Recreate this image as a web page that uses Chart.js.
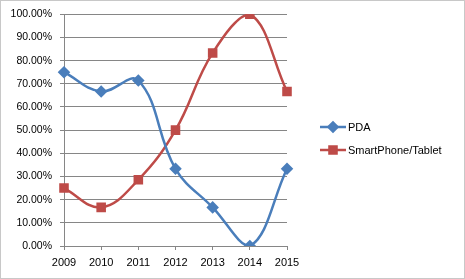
<!DOCTYPE html>
<html>
<head>
<meta charset="utf-8">
<script src="https://cdn.jsdelivr.net/npm/chart.js@4"></script>
<style>
  html, body { margin: 0; padding: 0; background: #fff; }
  #wrap { width: 465px; height: 279px; }
</style>
</head>
<body>
<div id="wrap"><canvas id="chart" width="465" height="279"></canvas></div>
<script>
// values
const years = ['2009', '2010', '2011', '2012', '2013', '2014', '2015'];
const pda = [75, 66.67, 71.43, 33.33, 16.67, 0, 33.33];
const smartphone = [25, 16.67, 28.57, 50, 83.33, 100, 66.67];
const seriesNames = ['PDA', 'SmartPhone/Tablet'];

const FONT = 'Liberation Sans';

// excel style legend: line with marker in the middle
const sideLegend = {
  id: 'sideLegend',
  afterDraw(chart) {
    const ctx = chart.ctx;
    const rows = [127, 150];
    chart.data.datasets.forEach((ds, i) => {
      const y = rows[i];
      ctx.save();
      ctx.strokeStyle = ds.borderColor;
      ctx.lineWidth = 2.5;
      ctx.beginPath();
      ctx.moveTo(320, y);
      ctx.lineTo(346, y);
      ctx.stroke();
      Chart.helpers.drawPoint(ctx, {
        pointStyle: ds.pointStyle, radius: ds.pointRadius, borderWidth: 1
      }, 333, y);
      ctx.fillStyle = ds.borderColor;
      ctx.fill();
      ctx.fillStyle = '#000';
      ctx.font = '11px "' + FONT + '"';
      ctx.textBaseline = 'middle';
      ctx.textAlign = 'left';
      ctx.fillText(ds.label, 348, y + 1);
      ctx.restore();
    });
    // outer frame
    ctx.save();
    ctx.strokeStyle = '#c8c8c8';
    ctx.lineWidth = 1;
    ctx.strokeRect(0.5, 0.5, chart.width - 1, chart.height - 1);
    ctx.restore();
  }
};

const ctx = document.getElementById('chart').getContext('2d');
new Chart(ctx, {
  type: 'line',
  data: {
    labels: years,
    datasets: [
      {
        label: seriesNames[0],
        data: pda,
        borderColor: '#4a7ebb',
        backgroundColor: '#4a7ebb',
        pointStyle: 'rectRot',
        pointRadius: 4.5,
        borderWidth: 2.5,
        tension: 0.4,
      },
      {
        label: seriesNames[1],
        data: smartphone,
        borderColor: '#be4b48',
        backgroundColor: '#be4b48',
        pointStyle: 'rect',
        pointRadius: 5,
        borderWidth: 2.5,
        tension: 0.4,
      },
    ],
  },
  options: {
    responsive: false,
    animation: false,
    layout: { padding: { top: 13, right: 178, left: 0, bottom: 0 } },
    scales: {
      x: {
        offset: false,
        grid: { drawOnChartArea: false, tickLength: 4, color: '#868686' },
        border: { color: '#868686' },
        ticks: { color: '#000', padding: 6, maxRotation: 0, font: { family: FONT, size: 11 } },
        afterFit: (scale) => { scale.height = 33; },
      },
      y: {
        min: 0,
        max: 100,
        ticks: {
          stepSize: 10,
          color: '#000',
          padding: 8,
          font: { family: FONT, size: 10.5 },
          callback: (v) => v.toFixed(2) + '%',
        },
        grid: { color: '#868686', tickLength: 4 },
        border: { color: '#868686' },
        afterFit: (scale) => { scale.width = 64; },
      },
    },
    plugins: {
      legend: { display: false },
      tooltip: { enabled: false },
    },
  },
  plugins: [sideLegend],
});
</script>
</body>
</html>
